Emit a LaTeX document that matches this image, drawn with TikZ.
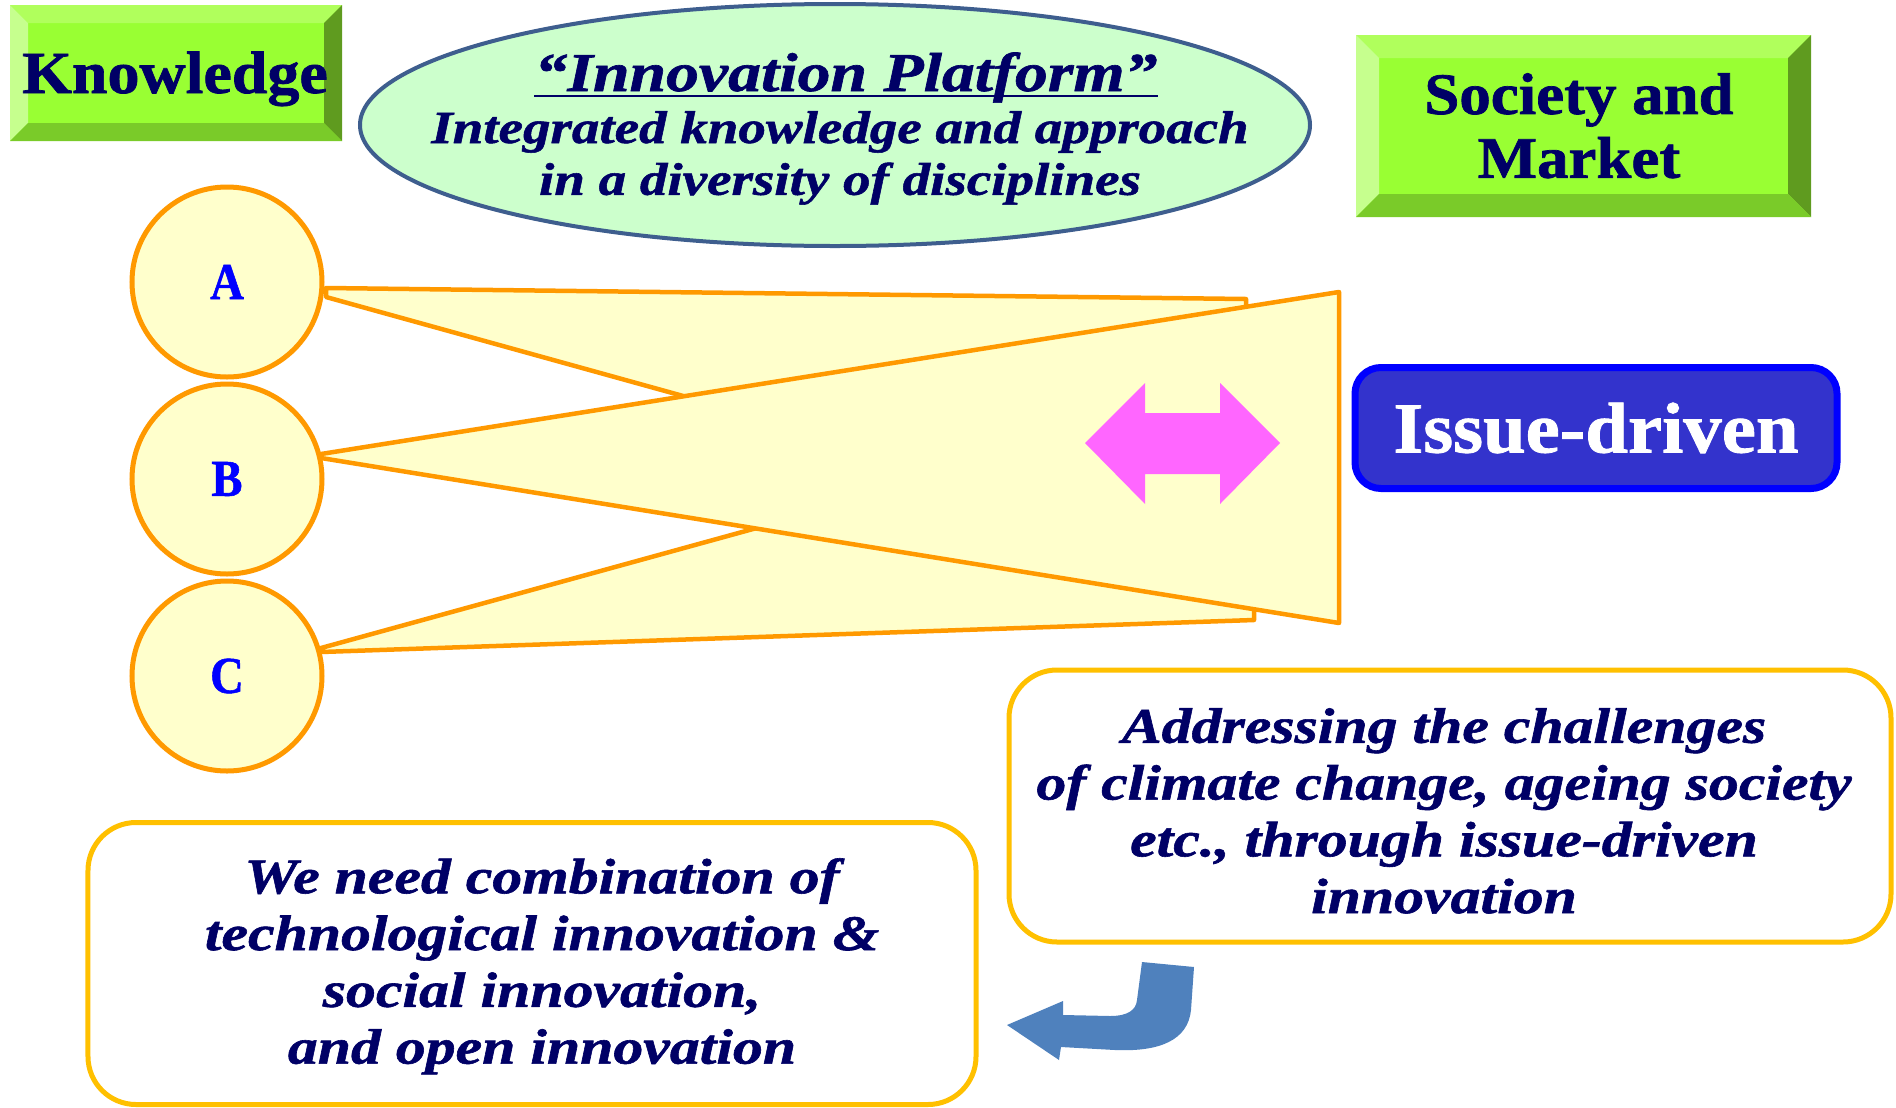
\documentclass[tikz,border=0pt]{standalone}
\usepackage{fontspec}
\setmainfont{Liberation Serif}
\newfontfamily\headfont[FakeStretch=1.07,FakeBold=1.2]{Liberation Serif}
\newfontfamily\notefont[FakeStretch=1.2,FakeBold=1.2]{Liberation Serif}
\newfontfamily\letterfont[FakeStretch=0.9,FakeBold=1]{Liberation Serif}
\usetikzlibrary{shapes.geometric}

\definecolor{navy}{HTML}{000066}
\definecolor{facegreen}{HTML}{99FF33}
\definecolor{bevtop}{HTML}{B0FF5C}
\definecolor{bevleft}{HTML}{C6FF8E}
\definecolor{bevright}{HTML}{5F9B1F}
\definecolor{bevbottom}{HTML}{7ACB29}
\definecolor{platfill}{HTML}{CCFFCC}
\definecolor{platline}{HTML}{3E5E8E}
\definecolor{fanline}{HTML}{FF9900}
\definecolor{fanfill}{HTML}{FFFFCC}
\definecolor{pinkarrow}{HTML}{FF66FF}
\definecolor{issuefill}{HTML}{3333CC}
\definecolor{issueline}{HTML}{0000FF}
\definecolor{notegold}{HTML}{FFC000}
\definecolor{turnblue}{HTML}{4F81BD}

\begin{document}
\begin{tikzpicture}[x=1bp, y=-1bp,
    heading/.style={text=navy, inner sep=0pt, font=\headfont\bfseries\fontsize{60}{64}\selectfont},
    ball/.style={circle, draw=fanline, fill=fanfill, line width=5bp, minimum size=190bp, inner sep=0pt,
      text=blue, font=\letterfont\bfseries\fontsize{52}{52}\selectfont},
    fan/.style={draw=fanline, fill=fanfill, line width=4.5bp, line join=round},
    note/.style={draw=notegold, line width=5bp, rounded corners=48bp, fill=white},
    notetext/.style={anchor=north, align=center, inner sep=0pt, text=navy,
      font=\notefont\bfseries\itshape\fontsize{50}{57}\selectfont}]
  \useasboundingbox (0,0) rectangle (1896,1107);

  % bevelled green boxes
  \fill[facegreen] (10,5) rectangle (342,141);
  \fill[bevtop] (10,5) -- (342,5) -- (324,23) -- (28,23) -- cycle;
  \fill[bevleft] (10,5) -- (28,23) -- (28,123) -- (10,141) -- cycle;
  \fill[bevright] (342,5) -- (342,141) -- (324,123) -- (324,23) -- cycle;
  \fill[bevbottom] (10,141) -- (342,141) -- (324,123) -- (28,123) -- cycle;
  \node[heading, anchor=base] (know) at (175,93) {Knowledge};

  \fill[facegreen] (1356,35) rectangle (1811,217);
  \fill[bevtop] (1356,35) -- (1811,35) -- (1788,58) -- (1379,58) -- cycle;
  \fill[bevleft] (1356,35) -- (1379,58) -- (1379,194) -- (1356,217) -- cycle;
  \fill[bevright] (1811,35) -- (1811,217) -- (1788,194) -- (1788,58) -- cycle;
  \fill[bevbottom] (1356,217) -- (1811,217) -- (1788,194) -- (1379,194) -- cycle;
  \node[heading, anchor=north, align=center, font=\headfont\bfseries\fontsize{59}{64}\selectfont]
    (society) at (1579,73) {Society and\\Market};

  % platform
  \node[ellipse, draw=platline, fill=platfill, line width=4bp, minimum width=950bp, minimum height=242bp]
    (platform) at (835,125) {};
  \node[anchor=base, inner sep=0pt, text=navy, font=\notefont\bfseries\itshape\fontsize{55}{60}\selectfont]
    (title) at (846,91) {“Innovation Platform”};
  \draw[navy, line width=2.5bp] ([yshift=-5bp]title.base west) -- ([yshift=-5bp]title.base east);
  \node[anchor=north, align=center, inner sep=0pt, text=navy, font=\notefont\bfseries\itshape\fontsize{46}{52}\selectfont]
    (subtitle) at (840,111) {Integrated knowledge and approach\\in a diversity of disciplines};

  % disciplines
  \node[ball] (A) at (227,282) {A};
  \node[ball] (B) at (227,479) {B};
  \node[ball] (C) at (227,676) {C};

  \filldraw[fan] (326,288) -- (1246,299) -- (1246,552) -- (326,297) -- cycle;
  \filldraw[fan] (321,652) -- (1254,620) -- (1254,391) -- (321,648) -- cycle;
  \filldraw[fan] (321,454) -- (1339,292) -- (1339,623) -- (321,458) -- cycle;

  \fill[pinkarrow] (1085,443) -- (1145,383) -- (1145,413) -- (1220,413) -- (1220,383) -- (1280,443)
    -- (1220,504) -- (1220,474) -- (1145,474) -- (1145,504) -- cycle;

  \node[draw=issueline, fill=issuefill, line width=7bp, rounded corners=26bp, minimum width=482bp,
    minimum height=121bp, text=white, font=\headfont\bfseries\fontsize{72}{72}\selectfont]
    (issue) at (1596,428) {Issue-driven};

  % notes
  \node[note, minimum width=882bp, minimum height=272bp] (challenge) at (1450,806) {};
  \node[notetext] (challengetext) at (1444,708)
    {Addressing the challenges\\of climate change, ageing society\\etc., through issue-driven\\innovation};

  \node[note, minimum width=888bp, minimum height=282bp] (need) at (532,963.5) {};
  \node[notetext] (needtext) at (542,858)
    {We need combination of\\technological innovation \&\\social innovation,\\and open innovation};

  \fill[turnblue] (1142,962) -- (1194,967) -- (1191,1010) .. controls (1188,1040) and (1160,1052) .. (1115,1050)
    -- (1061,1047) -- (1059,1060) -- (1007,1025) -- (1063,1001) -- (1063,1015) -- (1110,1016)
    .. controls (1128,1016) and (1136,1010) .. (1137,1000) -- cycle;
\end{tikzpicture}
\end{document}
